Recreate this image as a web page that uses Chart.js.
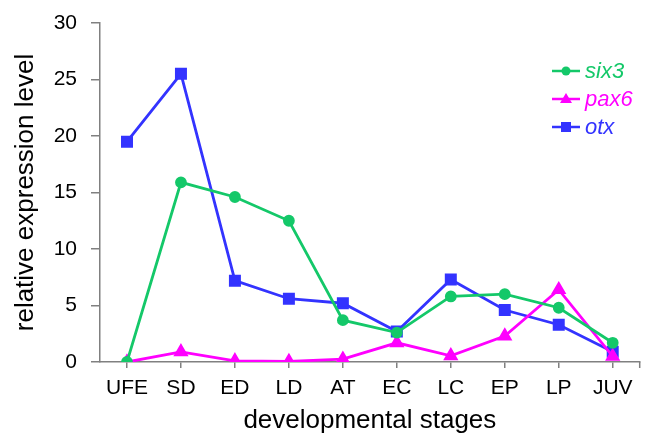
<!DOCTYPE html>
<html>
<head>
<meta charset="utf-8">
<script src="https://cdn.jsdelivr.net/npm/chart.js@4"></script>
<style>
  body { margin: 0; background: #fff; }
  #wrap { width: 649px; height: 436px; }
</style>
</head>
<body>
<div id="wrap"><canvas id="chart1"></canvas></div>
<script>
// stages and expression values
var stages = ['UFE', 'SD', 'ED', 'LD', 'AT', 'EC', 'LC', 'EP', 'LP', 'JUV'];
var six3 = [0, 15.9, 14.6, 12.5, 3.7, 2.6, 5.8, 6.0, 4.8, 1.7];
var pax6 = [0, 0.9, 0.1, 0.05, 0.25, 1.7, 0.55, 2.3, 6.4, 0.5];
var otx = [19.5, 25.5, 7.2, 5.6, 5.2, 2.7, 7.3, 4.6, 3.3, 0.9];

var green = 'rgb(20, 200, 105)';
var magenta = 'rgb(255, 0, 255)';
var blue = 'rgb(51, 51, 255)';
var axisGray = 'rgb(128, 128, 128)';
var fontFam = '"Liberation Sans", Arial, sans-serif';

// legend drawn by hand: line with marker in the middle
var legendPlugin = {
    id: 'lineLegend',
    afterDraw: function(chart) {
        var ctx = chart.ctx;
        var items = [
            { text: 'six3', color: green, shape: 'circle' },
            { text: 'pax6', color: magenta, shape: 'triangle' },
            { text: 'otx', color: blue, shape: 'rect' }
        ];
        ctx.save();
        items.forEach(function(it, i) {
            var y = 71 + i * 28;
            ctx.strokeStyle = it.color;
            ctx.fillStyle = it.color;
            ctx.lineWidth = 2.5;
            ctx.beginPath();
            ctx.moveTo(552, y);
            ctx.lineTo(580, y);
            ctx.stroke();
            ctx.beginPath();
            if (it.shape == 'circle') {
                ctx.arc(566, y, 4.5, 0, Math.PI * 2);
            } else if (it.shape == 'triangle') {
                ctx.moveTo(566, y - 6);
                ctx.lineTo(572, y + 4);
                ctx.lineTo(560, y + 4);
                ctx.closePath();
            } else {
                ctx.rect(561, y - 5, 10, 10);
            }
            ctx.fill();
            ctx.font = 'italic 22px ' + fontFam;
            ctx.textBaseline = 'middle';
            ctx.fillText(it.text, 585, y + 1);
        });
        // end tick on the x axis
        var a = chart.chartArea;
        ctx.strokeStyle = axisGray;
        ctx.lineWidth = 1.5;
        ctx.beginPath();
        ctx.moveTo(a.right, a.bottom);
        ctx.lineTo(a.right, a.bottom + 6);
        ctx.stroke();
        ctx.restore();
    }
};

var chart1Ctx = document.getElementById('chart1').getContext('2d');
var chart1 = new Chart(chart1Ctx, {
    type: 'line',
    data: {
        labels: stages,
        datasets: [{
            label: 'six3',
            data: six3,
            borderColor: green,
            backgroundColor: green,
            borderWidth: 2.8,
            pointStyle: 'circle',
            pointRadius: 4.5,
            tension: 0
        }, {
            label: 'pax6',
            data: pax6,
            borderColor: magenta,
            backgroundColor: magenta,
            borderWidth: 2.8,
            pointStyle: 'triangle',
            pointRadius: 6,
            tension: 0
        }, {
            label: 'otx',
            data: otx,
            borderColor: blue,
            backgroundColor: blue,
            borderWidth: 2.8,
            pointStyle: 'rect',
            pointRadius: 6.5,
            tension: 0
        }]
    },
    options: {
        responsive: true,
        maintainAspectRatio: false,
        animation: false,
        layout: { padding: { top: 23, right: 3, left: 0, bottom: 0 } },
        plugins: {
            legend: { display: false },
            tooltip: { enabled: false }
        },
        scales: {
            x: {
                offset: true,
                grid: {
                    offset: false,
                    drawOnChartArea: false,
                    drawTicks: true,
                    tickLength: 6,
                    color: axisGray,
                    lineWidth: 1.5
                },
                border: { color: axisGray, width: 1.5 },
                ticks: {
                    color: '#000',
                    padding: 8,
                    maxRotation: 0,
                    font: { family: fontFam, size: 21 }
                },
                title: {
                    display: true,
                    text: 'developmental stages',
                    color: '#000',
                    padding: { top: 4, bottom: 0 },
                    font: { family: fontFam, size: 26 }
                },
                afterFit: function(s) {
                    s.height = 74;
                    s.paddingLeft = 0;
                    s.paddingRight = 0;
                }
            },
            y: {
                min: 0,
                max: 30,
                ticks: {
                    stepSize: 5,
                    color: '#000',
                    padding: 14,
                    font: { family: fontFam, size: 21 }
                },
                grid: {
                    drawOnChartArea: false,
                    drawTicks: true,
                    tickLength: 9,
                    color: axisGray,
                    lineWidth: 1.5
                },
                border: { color: axisGray, width: 1.5 },
                title: {
                    display: true,
                    text: 'relative expression level',
                    color: '#000',
                    padding: { top: 10, bottom: 0 },
                    font: { family: fontFam, size: 26 }
                },
                afterFit: function(s) {
                    s.width = 100;
                    s.paddingTop = 0;
                    s.paddingBottom = 0;
                }
            }
        }
    },
    plugins: [legendPlugin]
});
</script>
</body>
</html>
